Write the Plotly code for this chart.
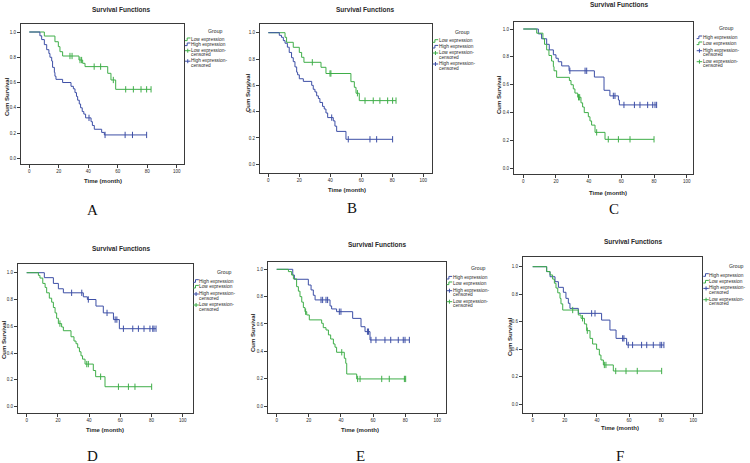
import plotly.graph_objects as go

W, H = 750, 463
BLUE = "#3d4fa6"
GREEN = "#3fae49"
TXT = "#2a2a2a"
FONT = "Liberation Sans"

# ---------------- data (time in months, cumulative survival) ----------------
A_low_t = [10.2, 17.4, 19.7, 20.8, 22.6, 33.7, 36.2, 37.8, 53.2, 55.4, 58.6]
A_low_s = [0.968, 0.923, 0.884, 0.844, 0.81, 0.778, 0.752, 0.726, 0.673, 0.62, 0.546]
A_low_c = [27.6, 29.0, 34.4, 35.5, 44.0, 48.4, 57.0, 65.4, 70.6, 75.8, 79.6, 82.6]
A_high_t = [7.2, 8.4, 10.2, 11.8, 13.3, 14.0, 15.2, 15.8, 17.0, 17.4, 18.1, 22.6, 28.3, 29.9,
            31.0, 32.0, 32.8, 33.9, 34.8, 35.9, 37.0, 38.2, 41.9, 42.8, 44.1, 49.1, 50.9]
A_high_s = [0.97, 0.94, 0.90, 0.86, 0.83, 0.80, 0.77, 0.72, 0.68, 0.65, 0.625, 0.60, 0.57, 0.55,
            0.52, 0.49, 0.46, 0.43, 0.40, 0.37, 0.35, 0.32, 0.29, 0.26, 0.23, 0.205, 0.185]
A_high_c = [40.5, 51.4, 65.0, 70.0, 79.6]

B_low_t = [10.8, 11.8, 16.1, 20.0, 21.5, 23.0, 34.0, 37.2, 53.3, 55.5, 56.6, 58.7]
B_low_s = [0.965, 0.927, 0.889, 0.85, 0.813, 0.775, 0.737, 0.69, 0.628, 0.585, 0.54, 0.484]
B_low_c = [28.4, 39.8, 40.4, 57.5, 62.4, 67.7, 72.0, 77.0, 80.2, 82.4]
B_high_t = [7.1, 8.5, 9.7, 10.8, 12.3, 13.5, 15.0, 16.1, 17.2, 18.3, 18.9, 20.0, 22.6, 28.0,
            29.0, 30.1, 31.2, 32.3, 33.3, 35.0, 36.1, 37.2, 38.3, 41.9, 43.0, 44.1, 50.1]
B_high_s = [0.98, 0.965, 0.94, 0.92, 0.89, 0.85, 0.81, 0.78, 0.74, 0.70, 0.68, 0.65, 0.63, 0.60,
            0.57, 0.55, 0.52, 0.50, 0.47, 0.44, 0.42, 0.39, 0.355, 0.33, 0.29, 0.25, 0.19]
B_high_c = [40.9, 51.6, 65.6, 69.9, 80.2]

C_high_t = [9.2, 11.2, 14.3, 15.9, 18.4, 20.0, 21.4, 23.5, 28.0, 43.5, 49.4, 53.0, 58.2, 58.8]
C_high_s = [0.965, 0.93, 0.89, 0.85, 0.815, 0.79, 0.765, 0.735, 0.70, 0.655, 0.56, 0.52, 0.49, 0.455]
C_high_c = [28.5, 37.8, 38.8, 55.1, 56.1, 61.6, 68.0, 71.4, 76.1, 79.2, 80.6, 81.6]
C_low_t = [8.2, 12.0, 13.0, 14.3, 15.7, 17.3, 18.4, 18.8, 20.4, 28.2, 29.2, 30.6, 31.6, 33.3,
           35.3, 36.3, 37.3, 39.8, 40.8, 41.8, 43.9, 50.0]
C_low_s = [0.97, 0.93, 0.89, 0.85, 0.81, 0.77, 0.73, 0.70, 0.653, 0.63, 0.60, 0.57, 0.54, 0.51,
           0.47, 0.44, 0.40, 0.37, 0.34, 0.31, 0.258, 0.208]
C_low_c = [33.8, 34.5, 44.9, 52.0, 58.2, 65.3, 80.0]

D_high_t = [11.3, 17.1, 20.3, 23.5, 36.3, 38.9, 44.4, 49.1, 55.6, 59.4]
D_high_s = [0.963, 0.92, 0.88, 0.85, 0.82, 0.80, 0.751, 0.70, 0.65, 0.582]
D_high_c = [28.8, 35.3, 39.5, 51.5, 56.7, 57.8, 62.0, 68.0, 71.6, 75.2, 79.0, 80.8, 81.6, 82.9]
D_low_t = [7.5, 8.5, 10.3, 11.8, 12.8, 14.5, 16.0, 17.1, 18.2, 19.2, 20.3, 22.4, 23.5, 28.4,
           30.3, 31.6, 32.7, 33.8, 34.8, 35.8, 37.4, 42.7, 44.2, 50.2]
D_low_s = [0.98, 0.96, 0.92, 0.89, 0.85, 0.81, 0.78, 0.74, 0.70, 0.66, 0.62, 0.595, 0.567, 0.522,
           0.49, 0.47, 0.44, 0.41, 0.38, 0.355, 0.318, 0.27, 0.224, 0.149]
D_low_c = [21.3, 38.5, 39.5, 47.4, 58.8, 65.2, 69.4, 80.1]

E_high_t = [10.0, 11.0, 19.7, 21.4, 22.8, 23.9, 33.2, 34.2, 37.3, 47.3, 52.5, 55.0, 58.1]
E_high_s = [0.958, 0.927, 0.885, 0.849, 0.81, 0.776, 0.732, 0.71, 0.69, 0.641, 0.58, 0.544, 0.483]
E_high_c = [27.6, 28.6, 30.7, 31.7, 39.0, 40.0, 56.5, 57.2, 58.7, 61.8, 67.4, 71.0, 75.7, 78.8, 79.9, 82.6]
E_low_t = [7.3, 9.3, 10.4, 12.4, 13.5, 14.5, 15.6, 16.6, 17.6, 18.7, 20.3, 28.0, 29.0, 30.7,
           32.2, 33.6, 35.3, 36.3, 37.3, 42.1, 43.0, 43.6, 49.8]
E_low_s = [0.983, 0.958, 0.93, 0.873, 0.84, 0.80, 0.76, 0.72, 0.69, 0.666, 0.63, 0.605, 0.573, 0.556,
           0.52, 0.49, 0.454, 0.43, 0.393, 0.349, 0.312, 0.234, 0.198]
E_low_c = [18.0, 40.5, 50.4, 51.9, 65.4, 70.1, 79.5, 80.3]

F_high_t = [8.7, 10.8, 13.9, 16.0, 19.1, 20.7, 22.2, 23.2, 28.4, 42.9, 48.1, 51.9, 58.5]
F_high_s = [0.964, 0.927, 0.891, 0.85, 0.814, 0.77, 0.734, 0.697, 0.661, 0.612, 0.54, 0.479, 0.431]
F_high_c = [36.7, 38.8, 56.0, 56.8, 59.5, 62.2, 67.8, 71.0, 75.1, 79.3, 80.3, 81.7]
F_low_t = [8.7, 10.8, 12.4, 13.5, 14.5, 15.6, 17.0, 17.6, 18.7, 28.4, 30.1, 32.2, 33.6, 35.7,
           37.3, 39.8, 41.5, 42.5, 44.0, 50.2]
F_low_s = [0.965, 0.94, 0.91, 0.88, 0.845, 0.81, 0.77, 0.73, 0.685, 0.649, 0.625, 0.584, 0.535, 0.479,
           0.438, 0.40, 0.358, 0.322, 0.286, 0.242]
F_low_c = [24.9, 31.0, 34.0, 44.6, 45.6, 51.7, 58.1, 65.1, 80.3]

X_TICKS = [0, 20, 40, 60, 80, 100]
Y_TICKS = [0.0, 0.2, 0.4, 0.6, 0.8, 1.0]
TITLE = "Survival Functions"
XTITLE = "Time (month)"
YTITLE = "Cum Survival"
LEG_TITLE = "Group"
PANEL_LETTERS = ["A", "B", "C", "D", "E", "F"]

# order of groups in legend per panel
PANELS = [
    [("Low expression", A_low_t, A_low_s, A_low_c, GREEN), ("High expression", A_high_t, A_high_s, A_high_c, BLUE)],
    [("Low expression", B_low_t, B_low_s, B_low_c, GREEN), ("High expression", B_high_t, B_high_s, B_high_c, BLUE)],
    [("High expression", C_high_t, C_high_s, C_high_c, BLUE), ("Low expression", C_low_t, C_low_s, C_low_c, GREEN)],
    [("High expression", D_high_t, D_high_s, D_high_c, BLUE), ("Low expression", D_low_t, D_low_s, D_low_c, GREEN)],
    [("High expression", E_high_t, E_high_s, E_high_c, BLUE), ("Low expression", E_low_t, E_low_s, E_low_c, GREEN)],
    [("High expression", F_high_t, F_high_s, F_high_c, BLUE), ("Low expression", F_low_t, F_low_s, F_low_c, GREEN)],
]

# ---------------- layout geometry (pixels) ----------------
# box L, T, R, B ; pixel of x=0, x=100 ; pixel of y=1, y=0
BOX = [
    (21, 24, 184, 164, 29.3, 176.7, 32.0, 158.3),
    (260, 24, 432, 173, 268.3, 423.3, 32.7, 164.3),
    (514, 22, 693, 174, 523.3, 686.7, 29.0, 168.3),
    (18, 264, 193, 413, 26.7, 182.7, 272.7, 406.7),
    (268, 262, 446, 413, 276.7, 437.3, 269.3, 406.0),
    (523, 257, 702, 413, 532.7, 693.3, 266.7, 404.3),
]
TITLE_POS = [(121, 9), (365, 9), (619, 4.5), (122, 248), (377, 244), (633, 242)]
XT_POS = [(103, 181), (347, 190), (608, 193), (105, 430), (360, 430), (620, 428)]
YT_POS = [(7, 97), (248, 93), (499, 95), (4, 340), (253, 333), (510, 337)]
LET_POS = [(92, 210), (352, 208), (614, 209), (92, 456), (360, 456), (620, 456)]
# legend: group title pos, glyph left x, text x, entry centre ys
LEG = [
    ((215, 31), 185.0, 190.0, [39.3, 44.3, 52.5, 63.0]),
    ((463, 31.7), 432.7, 438.0, [41.0, 46.7, 54.8, 65.8]),
    ((726.7, 27.7), 696.7, 701.7, [37.3, 43.3, 52.5, 63.5]),
    ((224, 271.7), 193.3, 198.3, [281.0, 286.7, 295.8, 306.8]),
    ((478.3, 267.7), 446.7, 451.7, [277.7, 283.3, 292.5, 303.5]),
    ((736.7, 266), 703.3, 708.3, [275.0, 281.7, 290.2, 301.5]),
]


def px(x):
    return x / W


def py(y):
    return 1 - y / H


def surv_at(ts, ss, x):
    v = 1.0
    for t, s in zip(ts, ss):
        if t <= x:
            v = s
    return v


fig = go.Figure()
annotations = []
shapes = []


def ann(x, y, text, size, bold=False, angle=0, xanchor="center", family=FONT, color=TXT):
    annotations.append(dict(x=px(x), y=py(y), xref="paper", yref="paper",
                            text="<b>%s</b>" % text if bold else text, showarrow=False,
                            xanchor=xanchor, yanchor="middle", textangle=angle,
                            borderpad=0, font=dict(size=size, family=family, color=color)))


for i, groups in enumerate(PANELS):
    n = "" if i == 0 else str(i + 1)
    L, T, R, B, x0, x100, y1, y0 = BOX[i]
    xr = [(L - x0) / (x100 - x0) * 100, (R - x0) / (x100 - x0) * 100]
    yr = [(y0 - B) / (y0 - y1), (y0 - T) / (y0 - y1)]
    axis_common = dict(showline=True, mirror=True, linecolor="#3a3a3a", linewidth=1,
                       ticks="outside", ticklen=3, tickwidth=1, tickcolor="#3a3a3a",
                       showgrid=False, zeroline=False,
                       tickfont=dict(size=4.5, color=TXT, family=FONT))
    fig.layout["xaxis" + n] = dict(domain=[px(L), px(R)], range=xr, tickvals=X_TICKS,
                                   anchor="y" + n, **axis_common)
    fig.layout["yaxis" + n] = dict(domain=[py(B), py(T)], range=yr, tickvals=Y_TICKS,
                                   tickformat=".1f", anchor="x" + n, **axis_common)
    for name, ts, ss, cs, col in groups:
        end = max(cs + [ts[-1]])
        fig.add_trace(go.Scatter(x=[0] + ts + [end], y=[1.0] + ss + [ss[-1]],
                                 mode="lines", line=dict(color=col, width=1, shape="hv"),
                                 xaxis="x" + n, yaxis="y" + n, showlegend=False, name=name))
        fig.add_trace(go.Scatter(x=cs, y=[surv_at(ts, ss, c) for c in cs], mode="markers",
                                 marker=dict(symbol="line-ns-open", size=4.5, color=col,
                                             line=dict(color=col, width=1)),
                                 xaxis="x" + n, yaxis="y" + n, showlegend=False,
                                 name=name + "-censored"))

    ann(*TITLE_POS[i], TITLE, 6.5, bold=True)
    ann(*XT_POS[i], XTITLE, 6.0, bold=True)
    ann(*YT_POS[i], YTITLE, 6.0, bold=True, angle=-90)
    ann(*LET_POS[i], PANEL_LETTERS[i], 15, family="Liberation Serif", color="#111111")

    (gx, gy), lx, tx, ys = LEG[i]
    ann(gx, gy, LEG_TITLE, 5.2)
    for k, (name, ts, ss, cs, col) in enumerate(groups):
        yc = ys[k]
        ann(tx, yc, name, 4.8, xanchor="left")
        shapes.append(dict(type="path", xref="paper", yref="paper",
                           path="M%f,%f L%f,%f L%f,%f L%f,%f" % (
                               px(lx), py(yc + 1.3), px(lx + 2.2), py(yc + 1.3),
                               px(lx + 2.2), py(yc - 1.3), px(lx + 5.5), py(yc - 1.3)),
                           line=dict(color=col, width=1)))
    for k, (name, ts, ss, cs, col) in enumerate(groups):
        yc = ys[k + 2]
        ann(tx, yc - 2.4, name + "-", 4.8, xanchor="left")
        ann(tx, yc + 2.4, "censored", 4.8, xanchor="left")
        gyl = yc - 1.8
        shapes.append(dict(type="line", xref="paper", yref="paper",
                           x0=px(lx), x1=px(lx + 5.5), y0=py(gyl), y1=py(gyl),
                           line=dict(color=col, width=1)))
        shapes.append(dict(type="line", xref="paper", yref="paper",
                           x0=px(lx + 2.75), x1=px(lx + 2.75), y0=py(gyl - 2), y1=py(gyl + 2),
                           line=dict(color=col, width=1)))

fig.update_layout(width=W, height=H, margin=dict(l=0, r=0, t=0, b=0),
                  paper_bgcolor="white", plot_bgcolor="white",
                  annotations=annotations, shapes=shapes, showlegend=False)

fig.write_html("out.html", config={"displayModeBar": False},
               post_script="document.body.style.margin='0';document.body.style.overflow='hidden';")
